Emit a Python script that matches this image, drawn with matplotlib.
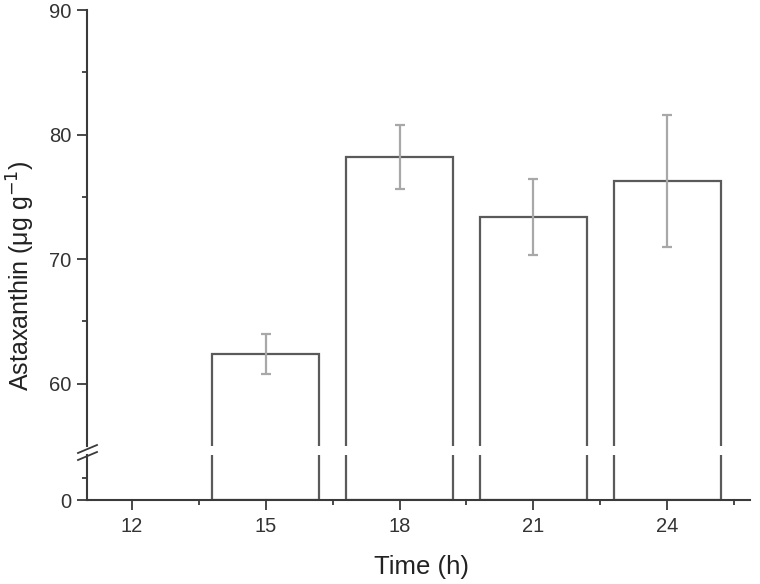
import matplotlib
matplotlib.use("Agg")
import matplotlib.pyplot as plt
from matplotlib.ticker import FixedLocator

plt.rcParams['font.family'] = ['Liberation Sans', 'DejaVu Sans']

times = [15, 18, 21, 24]
values = [62.4, 78.2, 73.4, 76.3]
errors = [1.6, 2.6, 3.05, 5.3]
xticks = [12, 15, 18, 21, 24]
yticks_upper = [60, 70, 80, 90]
yticks_lower = [0]

W, H = 760, 584
fig = plt.figure(figsize=(W/100, H/100), dpi=100)

left, right = 87, 750
ax_up = fig.add_axes([left/W, 1-446/H, (right-left)/W, (446-10)/H])
ax_lo = fig.add_axes([left/W, 1-500/H, (right-left)/W, (500-455)/H])

axc = '#3a3a3a'
edge = '#5a5a5a'
errc = '#a8a8a8'
bw = 2.4

for ax in (ax_up, ax_lo):
    ax.bar(times, values, width=bw, bottom=0, facecolor='white', edgecolor=edge, linewidth=1.6)
    ax.set_xlim(11, 25.85)
    ax.spines['top'].set_visible(False)
    ax.spines['right'].set_visible(False)
    ax.spines['left'].set_color(axc)
    ax.spines['bottom'].set_color(axc)
    ax.spines['left'].set_linewidth(1.5)
    ax.spines['bottom'].set_linewidth(1.5)
    ax.patch.set_alpha(0)

ax_up.errorbar(times, values, yerr=errors, fmt='none', ecolor=errc, elinewidth=1.6, capsize=3.5, capthick=1.6)

ax_up.set_ylim(55, 90)
ax_up.spines['bottom'].set_visible(False)
ax_up.set_xticks([])
ax_up.yaxis.set_major_locator(FixedLocator(yticks_upper))
ax_up.yaxis.set_minor_locator(FixedLocator([65, 75, 85]))
ax_up.tick_params(axis='y', which='major', length=7, width=1.3, color=axc, labelsize=14.5, labelcolor='#333333', pad=4)
ax_up.tick_params(axis='y', which='minor', length=3.5, width=1.3, color=axc)

ax_lo.set_ylim(0, 5)
ax_lo.yaxis.set_major_locator(FixedLocator(yticks_lower))
ax_lo.yaxis.set_minor_locator(FixedLocator([2.5]))
ax_lo.set_xticks(xticks)
ax_lo.xaxis.set_minor_locator(FixedLocator([13.5, 16.5, 19.5, 22.5, 25.5]))
ax_lo.tick_params(axis='both', which='major', length=7, width=1.3, color=axc, labelsize=14.5, labelcolor='#333333', pad=4)
ax_lo.tick_params(axis='x', which='major', pad=5)
ax_lo.tick_params(axis='both', which='minor', length=3.5, width=1.3, color=axc)

# break marks
for yb in (449, 456):
    fig.add_artist(plt.Line2D([78/W, 97/W], [1-(yb+4)/H, 1-(yb-4)/H], color=axc, lw=1.3))

fig.text(21/W, 1-276/H, 'Astaxanthin (μg g$^{-1}$)', rotation=90, ha='center', va='center', fontsize=18, color='#222222')
fig.text(422/W, 1-567/H, 'Time (h)', ha='center', va='center', fontsize=18.5, color='#222222')

fig.savefig('out.png', dpi=100)
